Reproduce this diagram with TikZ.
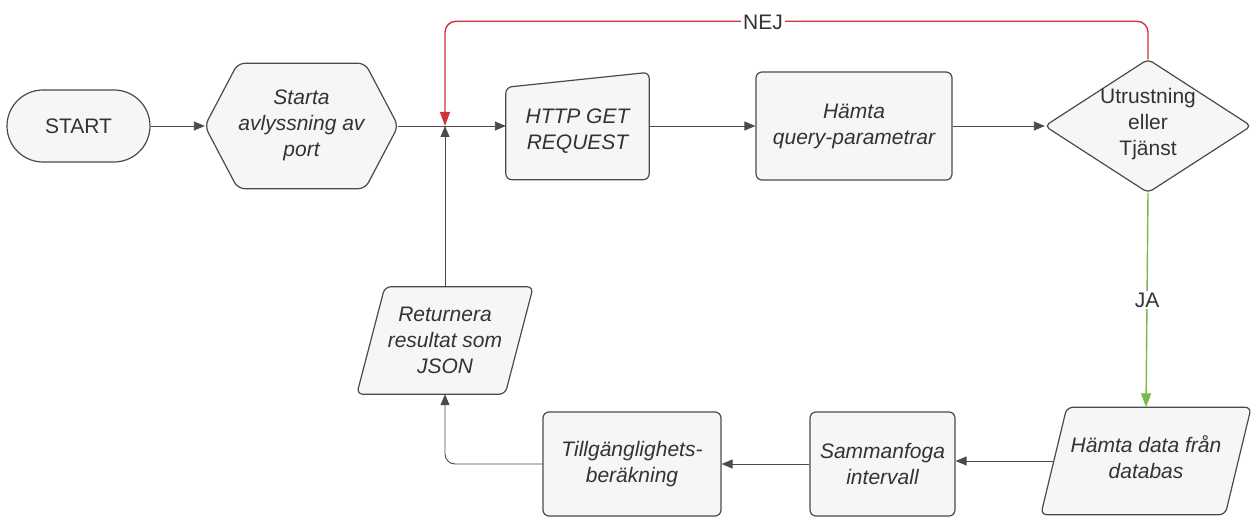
\documentclass[tikz,border=0pt]{standalone}
\usepackage{fontspec}
\setmainfont{Liberation Sans}
\usetikzlibrary{arrows.meta,backgrounds}
\definecolor{fillc}{HTML}{F6F6F6}
\definecolor{linec}{HTML}{4A4A4A}
\definecolor{txt}{HTML}{333333}
\definecolor{redc}{HTML}{D0333D}
\definecolor{greenc}{HTML}{79B84A}
\begin{document}
\begin{tikzpicture}[x=1pt,y=-1pt,
  shapeline/.style={draw=linec, fill=fillc, line width=1.2pt, rounded corners=7pt},
  lbl/.style={text=txt, font=\fontsize{21}{26}\selectfont\itshape, align=center, inner sep=0pt},
  upr/.style={text=txt, font=\fontsize{21}{26}\selectfont, align=center, inner sep=0pt},
  inv/.style={draw=none, inner sep=0pt},
  box/.style={shapeline, lbl, rounded corners=6pt},
  conn/.style={draw=linec, line width=0.9pt, -{Triangle[length=11pt,width=9pt]}},
  redarrow/.style={draw=redc, line width=1.4pt, rounded corners=11pt, -{Triangle[length=14pt,width=10pt]}},
  greenarrow/.style={draw=greenc, line width=1.4pt, -{Triangle[length=14pt,width=10pt]}},
  tag/.style={upr, fill=white, inner xsep=2pt, inner ysep=2pt}
]
\useasboundingbox (0,0) rectangle (1252,518);

% nodes
\node[shapeline, upr, rounded corners=36pt, minimum width=143pt, minimum height=72pt] (start) at (78.5,126) {START};
\node[inv, minimum width=193pt, minimum height=125pt] (hex) at (301.5,126) {};
\node[lbl] (hexT) at ([yshift=1pt]hex.center) {Starta\\avlyssning av\\port};
\node[inv, minimum width=143pt, minimum height=107pt] (http) at (577.5,126) {};
\node[lbl] (httpT) at ([yshift=-5pt]http.center) {HTTP GET\\REQUEST};
\node[box, minimum width=196pt, minimum height=108pt] (query) at (854,126) {Hämta\\query-parametrar};
\node[inv, minimum width=206pt, minimum height=133pt] (dia) at (1148,126) {};
\node[upr] (diaT) at (1148,124.5) {Utrustning\\eller\\Tjänst};
\node[inv, minimum width=184pt, minimum height=107pt] (hd) at (1146,461) {};
\node[lbl] (hdT) at ([yshift=4pt]hd.center) {Hämta data från\\databas};
\node[box, minimum width=145pt, minimum height=104pt] (sam) at (882.5,464) {Sammanfoga\\intervall};
\node[box, minimum width=178pt, minimum height=104pt] (till) at (632,464) {Tillgänglighets-\\beräkning};
\node[inv, lbl, minimum width=148pt, minimum height=107pt] (ret) at (445,340.5) {Returnera\\resultat som\\JSON};
\coordinate (J) at (ret.north |- hex.east);

% custom shapes
\begin{scope}[on background layer]
  \draw[shapeline] (hex.north) -- ([xshift=-33pt]hex.north east) -- (hex.east)
     -- ([xshift=-33pt]hex.south east) -- ([xshift=33pt]hex.south west)
     -- (hex.west) -- ([xshift=33pt]hex.north west) -- cycle;
  \draw[shapeline, rounded corners=6pt] (http.south) -- (http.south east) -- (http.north east)
     -- ([yshift=-15pt]http.north west) -- (http.south west) -- cycle;
  \draw[shapeline, rounded corners=5pt] (dia.south) -- (dia.east |- dia.center) -- (dia.north)
     -- (dia.west) -- cycle;
  \draw[shapeline, rounded corners=6pt] (hd.north) -- ([xshift=13pt]hd.north east)
     -- ([xshift=-13pt]hd.south east) -- ([xshift=-13pt]hd.south west)
     -- ([xshift=13pt]hd.north west) -- cycle;
  \draw[shapeline, rounded corners=6pt] (ret.north) -- ([xshift=14pt]ret.north east)
     -- ([xshift=-14pt]ret.south east) -- ([xshift=-14pt]ret.south west)
     -- ([xshift=14pt]ret.north west) -- cycle;
\end{scope}

% connectors
\draw[conn] (start.east) -- (hex.west);
\draw[conn] (hex.east) -- (http.west);
\draw[conn] (http.east) -- (query.west);
\draw[conn] (query.east) -- (dia.west);
\draw[redarrow] (dia.north) -- ++(0,-38) -| (J);
\node[tag] (nej) at (763,22) {NEJ};
\draw[greenarrow] (dia.south) -- node[tag] (ja) {JA} (hd.north);
\draw[conn] (hd.west) -- (hd.west -| sam.east);
\draw[conn] (sam.west) -- (till.east);
\draw[conn, rounded corners=10pt] (till.west) -| (ret.south);
\draw[conn] (ret.north) -- (J);
\end{tikzpicture}
\end{document}
